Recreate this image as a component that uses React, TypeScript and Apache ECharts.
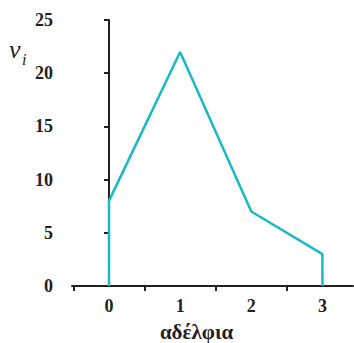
import React, { useEffect, useRef } from "react";
import * as echarts from "echarts";

const siblings = [0, 1, 2, 3];
const frequencies = [8, 22, 7, 3];
const yTicks = [0, 5, 10, 15, 20, 25];
const xLabelValues = [0, 1, 2, 3];
const xTickValues = [-0.5, 0.5, 1.5, 2.5];
const xAxisTitle = "αδέλφια";

const LINE = "#18BAC3";
const AXIS = "#231F20";
const FONT = "Liberation Serif";

export default function App() {
  const ref = useRef<HTMLDivElement>(null);
  useEffect(() => {
    if (!ref.current) return;
    const chart = echarts.init(ref.current, undefined, { renderer: "svg" });
    const n = siblings.length;
    const poly: number[][] = [[siblings[0], 0]];
    for (let i = 0; i < n; i++) poly.push([siblings[i], frequencies[i]]);
    poly.push([siblings[n - 1], 0]);
    chart.setOption({
      animation: false,
      textStyle: { fontFamily: FONT },
      grid: {
        left: 72,
        right: 1,
        top: 20,
        bottom: 57,
        containLabel: false,
        outerBoundsMode: "none",
      },
      xAxis: {
        type: "value",
        min: -0.52,
        max: 3.43,
        name: xAxisTitle,
        nameLocation: "middle",
        nameGap: 46,
        nameTextStyle: {
          fontFamily: FONT,
          fontWeight: "bold",
          fontSize: 21,
          color: AXIS,
          verticalAlign: "middle",
          padding: [0, 32, 0, 0],
        },
        axisLine: { show: true, lineStyle: { color: AXIS, width: 2 } },
        axisTick: {
          show: true,
          inside: false,
          length: 5,
          customValues: xTickValues,
          lineStyle: { color: AXIS, width: 2 },
        },
        axisLabel: {
          customValues: xLabelValues,
          margin: 11,
          fontFamily: FONT,
          fontWeight: "bold",
          fontSize: 18,
          color: AXIS,
        },
        splitLine: { show: false },
      },
      yAxis: {
        type: "value",
        min: 0,
        max: 25,
        interval: 5,
        axisLine: { show: true, lineStyle: { color: AXIS, width: 2 } },
        axisTick: { show: true, length: 5, lineStyle: { color: AXIS, width: 2 } },
        axisLabel: {
          customValues: yTicks,
          margin: 19,
          fontFamily: FONT,
          fontWeight: "bold",
          fontSize: 18,
          color: AXIS,
        },
        splitLine: { show: false },
      },
      graphic: [
        {
          type: "text",
          left: 9,
          top: 36,
          style: {
            text: "v",
            fontFamily: FONT,
            fontStyle: "italic",
            fontSize: 26,
            fill: AXIS,
          },
        },
        {
          type: "text",
          left: 22,
          top: 51,
          style: {
            text: "i",
            fontFamily: FONT,
            fontStyle: "italic",
            fontSize: 16,
            fill: AXIS,
          },
        },
      ],
      series: [
        {
          type: "line",
          data: poly,
          symbol: "none",
          lineStyle: { color: LINE, width: 2.5 },
          z: 3,
        },
      ],
    });
    return () => chart.dispose();
  }, []);
  return <div ref={ref} style={{ width: 354, height: 343, position: "absolute", left: 0, top: 0 }} />;
}
